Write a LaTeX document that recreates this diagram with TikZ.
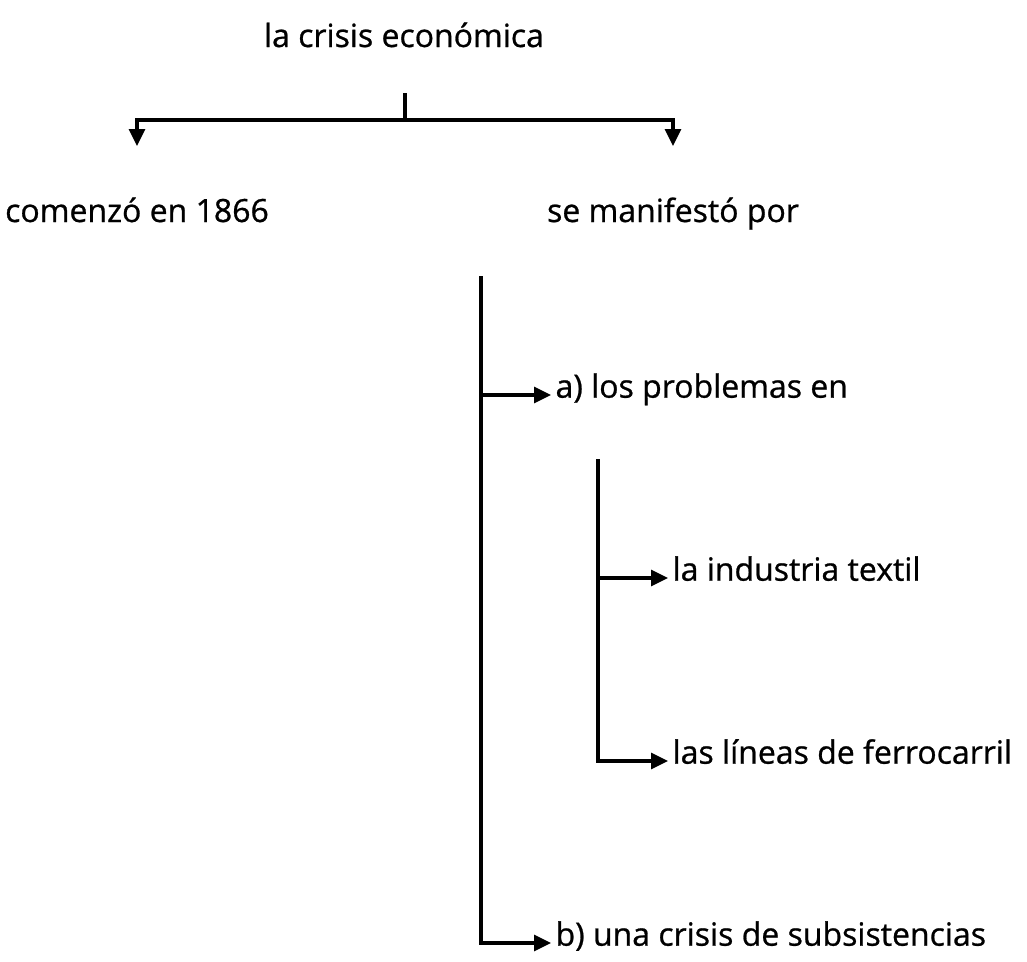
\documentclass[tikz,border=0pt]{standalone}
\usepackage{fontspec}
\setmainfont[FakeBold=0.8]{Open Sans}
\usepackage{tikz}
\usetikzlibrary{arrows.meta,positioning}

\begin{document}
\begin{tikzpicture}[x=1pt, y=-1pt, line width=3.2pt,
    >={Triangle[length=17pt,width=16pt]},
    txt/.style={inner xsep=3pt, inner ysep=0pt, font=\fontsize{32}{38}\selectfont}]
   \useasboundingbox (0,0) rectangle (1027,961);
   \node[txt, anchor=base] (crisis) at (404,47) {la crisis económica};
   \node[txt, anchor=base] (comenzo) at (137,222) {comenzó en 1866};
   \node[txt, anchor=base] (manif) at (673,222) {se manifestó por};
   \node[txt, anchor=mid west] (probl) at (551,395) {a) los problemas en};
   \node[txt, anchor=mid west] (textil) at (668,578) {la industria textil};
   \node[txt, anchor=mid west] (ferro) at (668,761) {las líneas de ferrocarril};
   \node[txt, anchor=mid west] (subsis) at (551,943) {b) una crisis de subsistencias};

   \coordinate (stub) at (405,93);
   \coordinate (split) at (405,120);
   \coordinate (left) at (137,146);
   \coordinate (right) at (673,146);
   \coordinate (main) at (481,276);
   \coordinate (sub) at (598,459);

  \draw (stub) -- (split);
  \draw[->] (split) -| (left);
  \draw[->] (split) -| (right);
  \draw[->] (main) |- (subsis.mid west);
  \draw[->] (sub) |- (ferro.mid west);
  \path[->]
    (main |- probl.mid west) edge node {} (probl.mid west)
    (sub |- textil.mid west) edge node {} (textil.mid west);
  \end{tikzpicture}
\end{document}
